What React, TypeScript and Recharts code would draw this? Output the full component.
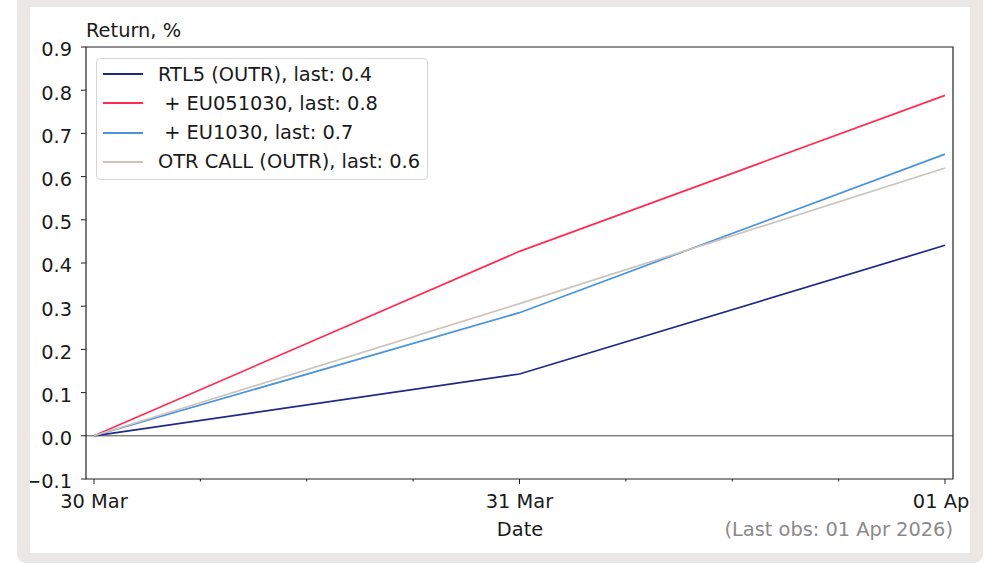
import { LineChart, Line, XAxis, YAxis, ReferenceLine, ReferenceArea } from 'recharts';

// cumulative return per day, %
const dates = ['30 Mar', '31 Mar', '01 Apr'];
const rtl5 = [0, 0.143, 0.441];
const eu051030 = [0, 0.427, 0.788];
const eu1030 = [0, 0.285, 0.652];
const otrCall = [0, 0.306, 0.62];

const seriesNames = ['RTL5 (OUTR)', ' + EU051030', ' + EU1030', 'OTR CALL (OUTR)'];
const seriesColors = ['#1f2a86', '#ff2d55', '#4a93dd', '#ccc4bb'];
const seriesValues = [rtl5, eu051030, eu1030, otrCall];

const yTicks = [-0.1, 0, 0.1, 0.2, 0.3, 0.4, 0.5, 0.6, 0.7, 0.8, 0.9];
// major ticks at each day, minor every 6 hours
const xTicks = [0, 0.25, 0.5, 0.75, 1, 1.25, 1.5, 1.75, 2];
const xDomain = [-0.0188, 2.0188];
const yDomain = [-0.1, 0.9];

const lastObs = '01 Apr 2026';

const FONT = '"DejaVu Sans", sans-serif';
const FS = 19.4;
const INK = '#1a1a1a';

const rows = dates.map((d, i) => {
  const row: Record<string, number | string> = { x: i, date: d };
  seriesValues.forEach((vals, k) => {
    row['s' + k] = vals[i];
  });
  return row;
});

function DateTick(props: any) {
  const { x, y, payload } = props;
  const v = payload.value as number;
  const major = Number.isInteger(v);
  return (
    <g>
      <line x1={x} x2={x} y1={y} y2={y + (major ? 5 : 2.5)} stroke="#222" strokeWidth={1} />
      {major && (
        <text x={x} y={y + 29} textAnchor="middle" fontSize={FS} fontFamily={FONT} fill={INK}>
          {dates[v]}
        </text>
      )}
    </g>
  );
}

function ValueTick(props: any) {
  const { x, y, payload } = props;
  const v = payload.value as number;
  const label = v < 0 ? '\u2212' + Math.abs(v).toFixed(1) : v.toFixed(1);
  return (
    <g>
      <line x1={x} x2={x - 5} y1={y} y2={y} stroke="#222" strokeWidth={1} />
      <text x={x - 14} y={y + 9.4} textAnchor="end" fontSize={FS} fontFamily={FONT} fill={INK}>
        {label}
      </text>
    </g>
  );
}

function LegendBox() {
  return (
    <div
      style={{
        position: 'absolute',
        left: 66,
        top: 51,
        width: 330,
        height: 120,
        border: '1px solid #d6d6d6',
        borderRadius: 4,
        background: 'rgba(255,255,255,0.85)',
        fontFamily: FONT,
        fontSize: FS,
        color: INK,
      }}
    >
      {seriesNames.map((name, k) => {
        const vals = seriesValues[k];
        return (
          <div
            key={name}
            style={{ position: 'absolute', left: 6, top: 2 + k * 29.3, height: 26, display: 'flex', alignItems: 'center' }}
          >
            <div style={{ width: 40, height: 2, background: seriesColors[k] }} />
            <span style={{ marginLeft: 15, whiteSpace: 'pre' }}>
              {name}, last: {vals[vals.length - 1].toFixed(1)}
            </span>
          </div>
        );
      })}
    </div>
  );
}

export default function App() {
  return (
    <div style={{ position: 'absolute', left: 0, top: 0, width: 990, height: 564, background: '#fff', overflow: 'hidden' }}>
      <div
        style={{
          position: 'absolute',
          left: 17,
          top: -20,
          width: 966,
          height: 583,
          background: '#ebe7e4',
          borderRadius: 9,
        }}
      >
        <div
          style={{
            position: 'absolute',
            left: 13,
            top: 27,
            width: 940,
            height: 546,
            background: '#fff',
            overflow: 'hidden',
          }}
        >
          <div style={{ position: 'absolute', left: 56, top: 12, fontFamily: FONT, fontSize: FS, color: INK }}>
            Return, %
          </div>
          <LineChart width={940} height={546} data={rows} margin={{ top: 40, right: 17, bottom: 44, left: 0 }}>
            <XAxis
              dataKey="x"
              type="number"
              domain={xDomain}
              ticks={xTicks}
              allowDataOverflow
              height={30}
              tickSize={0}
              tickMargin={0}
              tickLine={false}
              axisLine={false}
              interval={0}
              tick={<DateTick />}
            />
            <YAxis
              type="number"
              domain={yDomain}
              ticks={yTicks}
              allowDataOverflow
              width={56}
              tickSize={0}
              tickMargin={0}
              tickLine={false}
              axisLine={false}
              interval={0}
              tick={<ValueTick />}
            />
            <ReferenceLine y={0} stroke="#333" strokeWidth={0.9} />
            {seriesNames.map((name, k) => (
              <Line
                key={name}
                dataKey={'s' + k}
                name={name}
                type="linear"
                stroke={seriesColors[k]}
                strokeWidth={1.7}
                dot={false}
                isAnimationActive={false}
              />
            ))}
            <ReferenceArea
              x1={xDomain[0]}
              x2={xDomain[1]}
              y1={yDomain[0]}
              y2={yDomain[1]}
              fill="none"
              fillOpacity={0}
              stroke="#222"
              strokeWidth={1.2}
            />
          </LineChart>
          <LegendBox />
          <div
            style={{
              position: 'absolute',
              left: 440,
              width: 100,
              top: 511,
              textAlign: 'center',
              fontFamily: FONT,
              fontSize: FS,
              color: INK,
            }}
          >
            Date
          </div>
          <div
            style={{
              position: 'absolute',
              right: 17,
              top: 511,
              fontFamily: FONT,
              fontSize: FS,
              color: '#8a8a8a',
              whiteSpace: 'nowrap',
            }}
          >
            (Last obs: {lastObs})
          </div>
        </div>
      </div>
    </div>
  );
}
